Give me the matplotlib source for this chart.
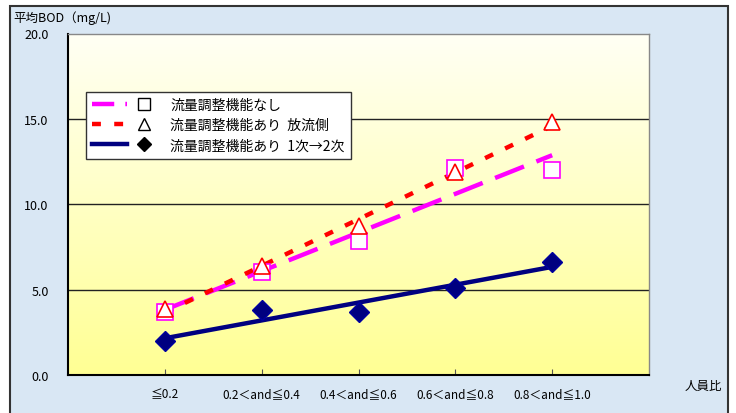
import numpy as np
import matplotlib
matplotlib.use("Agg")
import matplotlib.pyplot as plt
from matplotlib.patches import Rectangle
from matplotlib.lines import Line2D
from matplotlib.legend_handler import HandlerTuple

plt.rcParams['font.family'] = ['Noto Sans CJK JP', 'DejaVu Sans']

# 人員比の区分
categories = ['≦0.2', '0.2＜and≦0.4', '0.4＜and≦0.6', '0.6＜and≦0.8', '0.8＜and≦1.0']
# 平均BOD (mg/L)
bod_none = [3.71, 6.05, 7.87, 12.1, 12.0]      # 流量調整機能なし
bod_outlet = [3.87, 6.37, 8.72, 11.86, 14.8]   # 流量調整機能あり 放流側
bod_stage = [2.01, 3.81, 3.71, 5.08, 6.60]     # 流量調整機能あり 1次→2次
y_ticks = [0.0, 5.0, 10.0, 15.0, 20.0]

x = np.arange(len(categories))

fig = plt.figure(figsize=(7.36, 4.14), dpi=100)
fig.patch.set_facecolor('white')
# chart area frame
frame = Rectangle((10 / 736, -0.05), 718 / 736, 1.05 - 7 / 414,
                  transform=fig.transFigure, facecolor='#d9e7f4',
                  edgecolor='#333333', linewidth=1.5, zorder=-10)
fig.add_artist(frame)

ax = fig.add_axes([68 / 736, 1 - 376 / 414, 581 / 736, 341.5 / 414])
ax.set_zorder(1)
ax.set_xlim(-1, 5)

# cream at the top fading to yellow at the bottom
grad = np.linspace(0, 1, 256).reshape(-1, 1)
top = np.array([1.0, 1.0, 0.96])
bottom = np.array([1.0, 1.0, 0.58])
img = top + (bottom - top) * grad[:, :, None]
ax.imshow(img, extent=[-1, 5, 0, 20], aspect='auto', zorder=0)
ax.set_ylim(0, 20)

for yv in y_ticks[1:-1]:
    ax.axhline(yv, color='#222222', lw=1.0, zorder=1)


def trend(vals):
    k, b = np.polyfit(x, vals, 1)
    return k * x + b


ax.plot(x, trend(bod_none), color='#ff00ff', lw=3.2, dashes=(7, 3), zorder=3)
ax.plot(x, trend(bod_outlet), color='#ff0000', lw=3.2, dashes=(2, 3), zorder=3)
ax.plot(x, trend(bod_stage), color='#000080', lw=3.2, solid_capstyle='butt', zorder=3)

ax.plot(x, bod_none, ls='none', marker='s', ms=11, mfc='white', mec='#ff00ff', mew=1.2, zorder=4)
ax.plot(x, bod_outlet, ls='none', marker='^', ms=12, mfc='white', mec='#ff0000', mew=1.2, zorder=4)
ax.plot(x, bod_stage, ls='none', marker='D', ms=10, mfc='#000080', mec='#0000a0', mew=1, zorder=4)

ax.set_xticks(x)
ax.set_xticklabels(categories, fontsize=8.5)
ax.set_yticks(y_ticks)
ax.set_yticklabels(['%.1f' % v for v in y_ticks], fontsize=9)
ax.tick_params(axis='x', direction='in', length=4, pad=9, color='#555555')
ax.tick_params(axis='y', length=0, pad=14)

for side in ['left', 'bottom']:
    ax.spines[side].set_color('black')
    ax.spines[side].set_linewidth(1.5)
for side in ['top', 'right']:
    ax.spines[side].set_color('#888888')
    ax.spines[side].set_linewidth(1.0)

fig.text(13 / 736, 1 - 18 / 414, '平均BOD（mg/L)', fontsize=9, va='center', ha='left')
fig.text(722 / 736, 1 - 386 / 414, '人員比', fontsize=9, va='center', ha='right')

handles = [
    Line2D([], [], color='#ff00ff', lw=3.2, dashes=(5, 2.5)),
    Line2D([], [], color='#ff0000', lw=3.2, dashes=(2, 3)),
    Line2D([], [], color='#000080', lw=3.2),
]
marks = [
    Line2D([], [], ls='none', marker='s', ms=8, mfc='white', mec='black', mew=1),
    Line2D([], [], ls='none', marker='^', ms=9, mfc='white', mec='black', mew=1),
    Line2D([], [], ls='none', marker='D', ms=7, mfc='black', mec='black'),
]
labels = ['流量調整機能なし', '流量調整機能あり  放流側', '流量調整機能あり  1次→2次']
leg = ax.legend([(h, m) for h, m in zip(handles, marks)], labels,
                handler_map={tuple: HandlerTuple(ndivide=None, pad=0)},
                loc='upper left', bbox_to_anchor=(18 / 581, 1 - 58 / 341.5),
                fontsize=10, frameon=True, fancybox=False, edgecolor='#333333',
                framealpha=1, facecolor='white', handlelength=5.0, handletextpad=0.6,
                labelspacing=0.45, borderpad=0.45, borderaxespad=0)
leg.get_frame().set_linewidth(1.0)
leg.set_zorder(6)

fig.savefig('out.png', dpi=100)
